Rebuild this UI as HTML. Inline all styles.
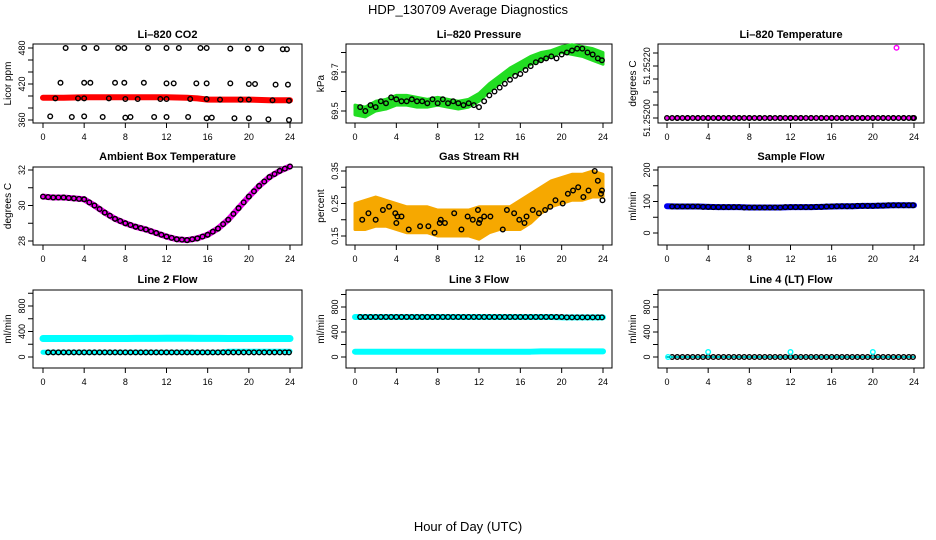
<!DOCTYPE html>
<html><head><meta charset="utf-8"><style>
body{margin:0;background:#fff;}
svg{display:block;font-family:"Liberation Sans",sans-serif;}
</style></head><body>
<svg id="chart" width="936" height="540" viewBox="0 0 936 540">
<text x="468" y="14" text-anchor="middle" font-size="13">HDP_130709  Average Diagnostics</text>
<text x="468" y="531" text-anchor="middle" font-size="13">Hour of Day (UTC)</text>
</svg>
<script>
const halfHours=[0.5,1,1.5,2,2.5,3,3.5,4,4.5,5,5.5,6,6.5,7,7.5,8,8.5,9,9.5,10,10.5,11,11.5,12,12.5,13,13.5,14,14.5,15,15.5,16,16.5,17,17.5,18,18.5,19,19.5,20,20.5,21,21.5,22,22.5,23,23.5,23.9];
const hours=[0,1,2,3,4,5,6,7,8,9,10,11,12,13,14,15,16,17,18,19,20,21,22,23,24];
const xTicks=[0,4,8,12,16,20,24];

// CO2
const co2BandTimes=[0,2,4,6,8,10,12,14,15,16,18,20,22,24];
const co2Band=[397,397,398,398,398,398,398,397,396,394,394,394,393,393];
const co2PtTimes=[2.2,4,5.2,7.3,7.9,10.2,12,13.2,15.3,15.9,18.2,19.9,21.2,23.3,23.7,1.7,4,4.6,7,7.9,9.8,12,12.7,14.9,15.9,18.2,20,20.6,22.6,23.8,1.2,3.4,4,6.4,8,9.2,11.4,12,14.3,15.9,17.2,19.2,20,22.3,23.9,0.7,2.8,4,5.8,8,8.5,10.8,12,14.1,15.9,16.4,18.6,20,21.9,23.9];
const co2PtVals=[480,480,480,480,480,480,480,480,480,480,479,479,479,478,478,422,422,422,422,422,422,421,421,421,421,421,420,420,419,419,396,396,396,396,395,395,395,395,395,395,394,394,394,393,392,366,365,366,365,364,365,365,365,365,363,364,363,363,361,360];
// Pressure
const presUpper=[69.53,69.52,69.55,69.56,69.58,69.58,69.57,69.56,69.57,69.56,69.55,69.56,69.59,69.64,69.68,69.72,69.75,69.78,69.80,69.81,69.83,69.84,69.83,69.82,69.80];
const presLower=[69.48,69.47,69.50,69.51,69.53,69.53,69.52,69.52,69.53,69.52,69.51,69.52,69.55,69.60,69.64,69.68,69.71,69.74,69.76,69.78,69.80,69.79,69.78,69.76,69.74];
const presPtVals=[69.52,69.50,69.53,69.52,69.55,69.54,69.57,69.56,69.55,69.55,69.56,69.55,69.55,69.54,69.56,69.54,69.56,69.54,69.55,69.54,69.53,69.54,69.53,69.52,69.55,69.58,69.60,69.62,69.64,69.66,69.68,69.69,69.71,69.73,69.75,69.76,69.77,69.78,69.77,69.79,69.80,69.81,69.82,69.82,69.80,69.79,69.77,69.76];
// Li-820 temperature
const ltempVals=[51.252,51.252,51.252,51.252,51.252,51.252,51.252,51.252,51.252,51.252,51.252,51.252,51.252,51.252,51.252,51.252,51.252,51.252,51.252,51.252,51.252,51.252,51.252,51.252,51.252];
const ltempOutlierT=[22.3];
const ltempOutlierV=[51.25227];
// Ambient
const ambVals=[30.5,30.45,30.45,30.4,30.35,30.0,29.6,29.25,29.0,28.8,28.65,28.45,28.25,28.1,28.05,28.15,28.35,28.7,29.2,29.85,30.5,31.1,31.6,31.95,32.2];
// RH
const rhUpper=[0.25,0.26,0.27,0.26,0.25,0.24,0.24,0.24,0.23,0.23,0.23,0.23,0.24,0.24,0.24,0.24,0.26,0.28,0.30,0.32,0.33,0.34,0.34,0.35,0.34];
const rhLower=[0.17,0.17,0.18,0.18,0.17,0.16,0.16,0.16,0.15,0.15,0.15,0.15,0.14,0.16,0.17,0.17,0.17,0.19,0.22,0.24,0.25,0.26,0.26,0.27,0.27];
const rhPtTimes=[0.7,1.3,2,2.7,3.3,3.9,4,4.1,4.5,5.2,6.3,7.1,7.7,8.2,8.3,8.7,9.6,10.3,10.9,11.4,11.9,12,12.1,12.5,13.1,14.3,14.7,15.4,15.9,16.4,16.6,17.2,17.8,18.4,18.9,19.4,20.1,20.6,21.1,21.6,22.1,22.6,23.2,23.5,23.8,23.9,23.95];
const rhPtVals=[0.20,0.22,0.20,0.23,0.24,0.22,0.19,0.21,0.21,0.17,0.18,0.18,0.16,0.19,0.20,0.19,0.22,0.17,0.21,0.20,0.23,0.19,0.20,0.21,0.21,0.17,0.23,0.22,0.20,0.19,0.21,0.23,0.22,0.23,0.24,0.26,0.25,0.28,0.29,0.30,0.27,0.29,0.35,0.32,0.28,0.29,0.26];
// Sample flow
const sfVals=[85,84,84,84,83,82,82,82,81,81,81,81,82,82,82,83,84,85,85,86,86,87,88,88,88];
// Line 2
const l2Upper=[290,290,290,290,290,290,290,290,290,292,292,292,295,295,295,293,293,293,290,290,290,290,290,290,290];
const l2Lower=[75,75,75,75,75,75,75,75,75,75,75,75,75,75,75,75,75,75,90,90,90,90,90,90,90];
const l2PtVals=[72,72,72,72,72,72,72,72,72,72,72,72,72,72,72,72,72,72,72,72,72,72,72,72,72,72,72,72,72,72,72,72,72,72,72,72,72,72,72,72,72,72,72,72,72,72,72,72];
// Line 3
const l3Upper=[640,640,640,640,640,640,640,640,640,640,640,640,640,640,640,640,640,640,640,640,635,635,635,635,635];
const l3Lower=[85,85,85,85,85,85,85,85,85,85,85,85,85,85,85,85,85,85,90,90,90,90,90,90,90];
const l3PtVals=[640,640,640,640,640,640,640,640,640,640,640,640,640,640,640,640,640,640,640,640,640,640,640,640,640,640,640,640,640,640,640,640,640,640,640,640,640,640,640,640,635,635,635,635,635,635,635,635];
// Line 4
const l4Vals=[0,0,0,0,0,0,0,0,0,0,0,0,0,0,0,0,0,0,0,0,0,0,0,0,0];
const l4CyanT=[0.1,4,12,20];
const l4CyanV=[0,80,80,80];

const NS="http://www.w3.org/2000/svg";
const svg=document.getElementById('chart');
function el(tag,attrs,parent){const e=document.createElementNS(NS,tag);for(const k in attrs)e.setAttribute(k,attrs[k]);(parent||svg).appendChild(e);return e;}

const cols=[{bl:33,br:302,x0:43,x24:290},{bl:346,br:612,x0:355,x24:603},{bl:658,br:924,x0:667,x24:914}];
const rows=[{bt:44,bb:123,ty:38,xl:140},{bt:167,bb:245,ty:160,xl:262},{bt:290,bb:368,ty:283,xl:385}];

function makePanel(name,c,r,title,ylab,v1,p1,v2,p2,ticks,labels,labelText){
  const C=cols[c],R=rows[r];
  const g=el('g',{});
  
  
  const xs=t=>C.x0+(C.x24-C.x0)*t/24;
  const ys=v=>p1+(p2-p1)*(v-v1)/(v2-v1);
  const t=el('text',{x:(C.bl+C.br)/2,y:R.ty,'text-anchor':'middle','font-size':'11','font-weight':'bold'},g);
  t.textContent=title;
  
  
  const box=el('rect',{x:C.bl,y:R.bt,width:C.br-C.bl,height:R.bb-R.bt,fill:'none',stroke:'#000','stroke-width':1},g);
  
  
  const xa=el('g',{},g);
  
  
  el('line',{x1:xs(0),x2:xs(24),y1:R.bb,y2:R.bb,stroke:'#000'},xa);
  xTicks.forEach(v=>{el('line',{x1:xs(v),x2:xs(v),y1:R.bb,y2:R.bb+5,stroke:'#000'},xa);
    const tx=el('text',{x:xs(v),y:R.xl,'text-anchor':'middle','font-size':'9'},xa);tx.textContent=v;});
  const ya=el('g',{},g);
  
  
  el('line',{x1:C.bl,x2:C.bl,y1:ys(ticks[0]),y2:ys(ticks[ticks.length-1]),stroke:'#000'},ya);
  ticks.forEach(v=>el('line',{x1:C.bl-5,x2:C.bl,y1:ys(v),y2:ys(v),stroke:'#000'},ya));
  labels.forEach((v,i)=>{const y=ys(v);const tx=el('text',{x:C.bl-8,y:y,'text-anchor':'middle','font-size':'9',transform:`rotate(-90 ${C.bl-8} ${y})`},ya);tx.textContent=labelText?labelText[i]:v;});
  const yl=el('text',{x:C.bl-22,y:(R.bt+R.bb)/2,'text-anchor':'middle','font-size':'10',transform:`rotate(-90 ${C.bl-22} ${(R.bt+R.bb)/2})`},g);
  yl.textContent=ylab;
  
  
  const marks=el('g',{},g);
  
  
  return {g:marks,xs,ys};
}
function band(P,ts,vs,color,w,nm){
  const pl=el('polyline',{points:ts.map((t,i)=>P.xs(t)+','+P.ys(vs[i])).join(' '),fill:'none',stroke:color,'stroke-width':w,'stroke-linejoin':'round','stroke-linecap':'round'},P.g);
  
  
}
function area(P,ts,up,lo,fill,nm){
  const pts=ts.map((t,i)=>P.xs(t)+','+P.ys(up[i])).concat(ts.map((t,i)=>P.xs(t)+','+P.ys(lo[i])).reverse()).join(' ');
  const pg=el('polygon',{points:pts,fill:fill,stroke:fill,'stroke-width':3,'stroke-linejoin':'round'},P.g);
  
  
}
function circles(P,ts,vs,color,nm){
  ts.forEach((t,i)=>{const c=el('circle',{cx:P.xs(t),cy:P.ys(vs[i]),r:2.3,fill:'none',stroke:color,'stroke-width':1.4},P.g);
    
    });
}

// Panel 1 CO2
let P=makePanel('co2',0,0,'Li\u2013820 CO2','Licor ppm',480,48,360,120,[360,380,400,420,440,460,480],[360,420,480]);
band(P,co2BandTimes,co2Band,'#ff0000',6,'co2-band');
circles(P,co2PtTimes,co2PtVals,'#000','co2-point');
// Panel 2 pressure
P=makePanel('pressure',1,0,'Li\u2013820 Pressure','kPa',69.5,111,69.7,72,[69.5,69.6,69.7,69.8],[69.5,69.7]);
area(P,hours,presUpper,presLower,'#22dd22','pressure-band');
circles(P,halfHours,presPtVals,'#000','pressure-point');
// Panel 3 Li temp
P=makePanel('li820-temp',2,0,'Li\u2013820 Temperature','degrees C',51.252,118,51.2522,66,[51.252,51.25205,51.2521,51.25215,51.2522,51.25225],[51.252,51.2522],['51.25200','51.25220']);
band(P,hours,ltempVals,'#ff00ff',3,'li820-temp-band');
circles(P,hours.map(h=>h),ltempVals,'#000','li820-temp-point');
circles(P,halfHours,halfHours.map(()=>ltempVals[0]),'#000','li820-temp-point');
circles(P,ltempOutlierT,ltempOutlierV,'#ff00ff','li820-temp-outlier');
// Panel 4 ambient
P=makePanel('ambient',0,1,'Ambient Box Temperature','degrees C',32,170,28,241,[28,29,30,31,32],[28,30,32]);
band(P,hours,ambVals,'#ee00ee',6,'ambient-band');
circles(P,hours,ambVals,'#000','ambient-point');
circles(P,halfHours.slice(0,-1),halfHours.slice(0,-1).map((t,i)=>(ambVals[Math.floor(t)]+ambVals[Math.ceil(t)])/2),'#000','ambient-point');
// Panel 5 RH
P=makePanel('rh',1,1,'Gas Stream RH','percent',0.35,171,0.15,236,[0.15,0.2,0.25,0.3,0.35],[0.15,0.25,0.35]);
area(P,hours,rhUpper,rhLower,'#f6a800','rh-band');
circles(P,rhPtTimes,rhPtVals,'#000','rh-point');
// Panel 6 sample flow
P=makePanel('sample-flow',2,1,'Sample Flow','ml/min',200,170,0,233,[0,50,100,150,200],[0,100,200]);
band(P,hours,sfVals,'#0000ee',6,'sample-flow-band');
circles(P,halfHours,halfHours.map(t=>sfVals[Math.round(t)]),'#000','sample-flow-point');
// Panel 7 line2
const flowTicks=[0,200,400,600,800,1000];
P=makePanel('line2',0,2,'Line 2 Flow','ml/min',800,306,0,357,flowTicks,[0,400,800]);
band(P,hours,l2Upper,'#00ffff',7,'line2-upper-band');
band(P,hours,l2Lower,'#00ffff',5,'line2-lower-band');
circles(P,halfHours,l2PtVals,'#000','line2-point');
// Panel 8 line3
P=makePanel('line3',1,2,'Line 3 Flow','ml/min',800,307,0,357,flowTicks,[0,400,800]);
band(P,hours,l3Upper,'#00ffff',6,'line3-upper-band');
band(P,hours,l3Lower,'#00ffff',6,'line3-lower-band');
circles(P,halfHours,l3PtVals,'#000','line3-point');
// Panel 9 line4
P=makePanel('line4',2,2,'Line 4 (LT) Flow','ml/min',800,307,0,357,flowTicks,[0,400,800]);
band(P,hours,l4Vals,'#00cccc',2,'line4-band');
circles(P,halfHours,halfHours.map(()=>l4Vals[0]),'#000','line4-point');
circles(P,l4CyanT,l4CyanV,'#00ffff','line4-cyan-point');
</script>
</body></html>
